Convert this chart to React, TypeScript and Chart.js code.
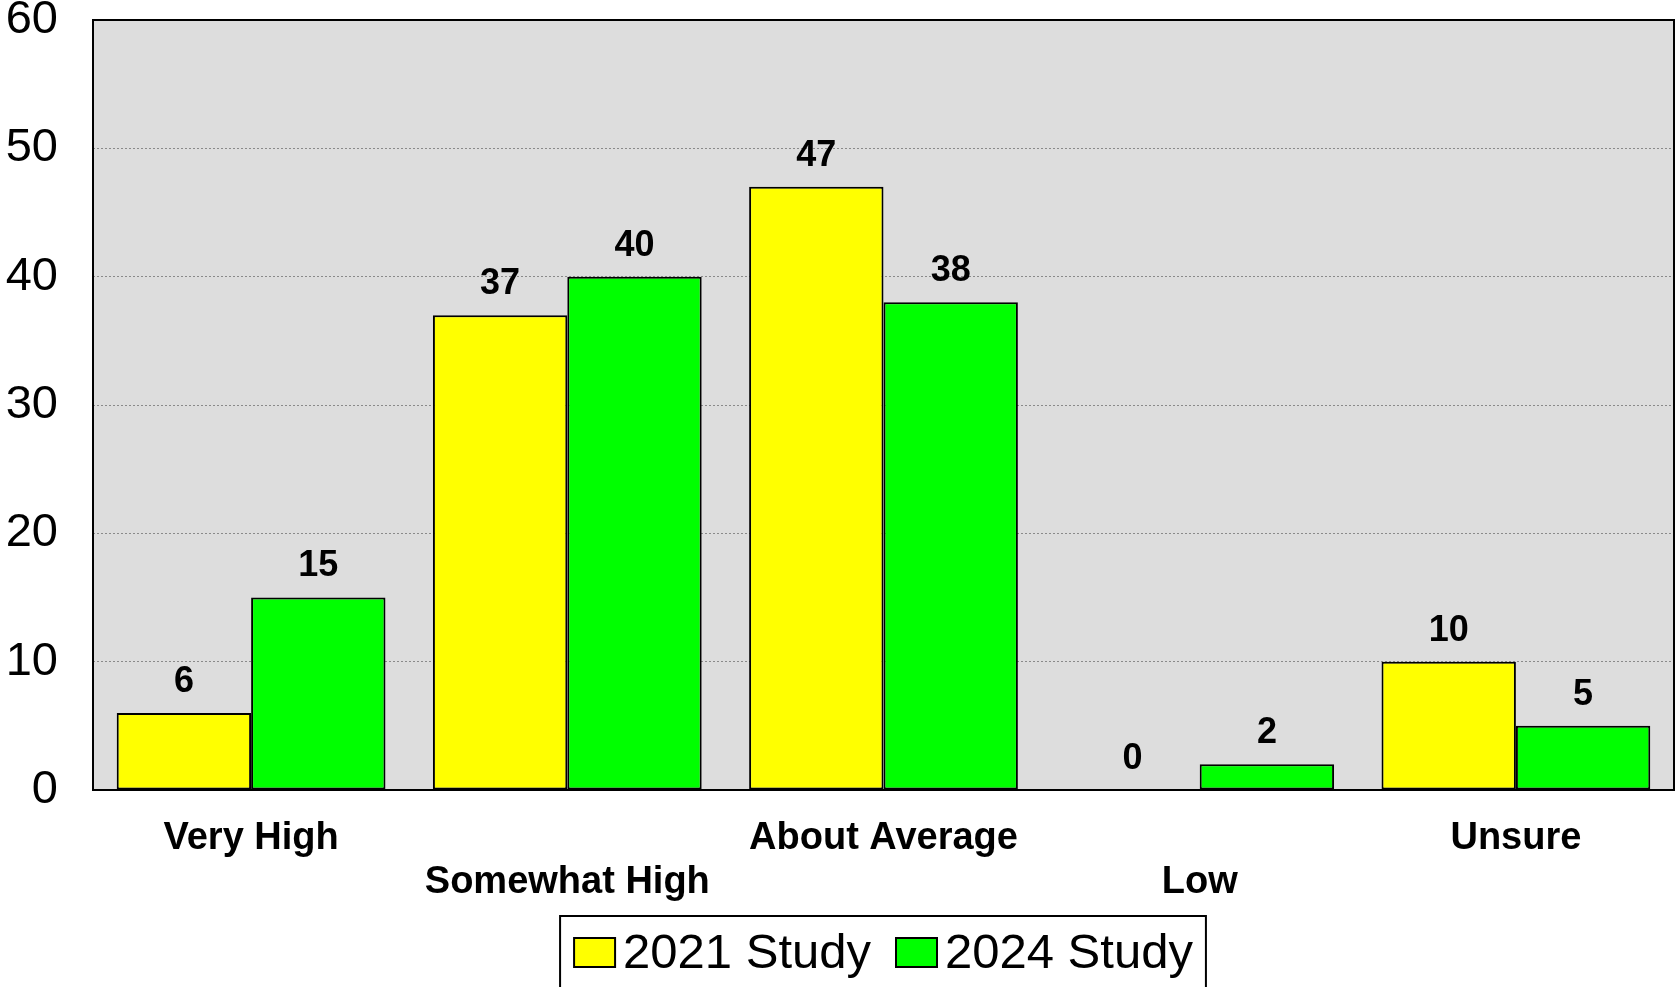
import React, { useEffect, useRef } from "react";
import { Chart, registerables } from "chart.js";

Chart.register(...registerables);

const categories = ["Very High", "Somewhat High", "About Average", "Low", "Unsure"];
const series2021 = [6, 37, 47, 0, 10];
const series2024 = [15, 40, 38, 2, 5];
const seriesNames = ["2021 Study", "2024 Study"];
const seriesColors = ["#ffff00", "#00ff00"];
const yTicks = [0, 10, 20, 30, 40, 50, 60];

const FONT = "'Liberation Sans', Arial, Helvetica, sans-serif";

const bgPlugin = {
  id: "plotBg",
  beforeDraw(chart: any) {
    const { ctx, chartArea } = chart;
    ctx.save();
    ctx.fillStyle = "#dddddd";
    ctx.fillRect(chartArea.left, chartArea.top, chartArea.right - chartArea.left, chartArea.bottom - chartArea.top);
    ctx.restore();
  },
};

const framePlugin = {
  id: "plotFrame",
  afterDatasetsDraw(chart: any) {
    const { ctx, chartArea } = chart;
    ctx.save();
    ctx.strokeStyle = "#000";
    ctx.lineWidth = 2;
    ctx.strokeRect(chartArea.left, chartArea.top, chartArea.right - chartArea.left, chartArea.bottom - chartArea.top);
    ctx.restore();
  },
};

const valueLabelPlugin = {
  id: "valueLabels",
  afterDatasetsDraw(chart: any) {
    const { ctx } = chart;
    ctx.save();
    ctx.font = `bold 36px ${FONT}`;
    ctx.fillStyle = "#000";
    ctx.textAlign = "center";
    ctx.textBaseline = "middle";
    chart.data.datasets.forEach((ds: any, di: number) => {
      const meta = chart.getDatasetMeta(di);
      meta.data.forEach((el: any, i: number) => {
        ctx.fillText(String(ds.data[i]), el.x, el.y - 31);
      });
    });
    ctx.restore();
  },
};

const legendPlugin = {
  id: "framedLegend",
  afterDraw(chart: any) {
    const { ctx, chartArea } = chart;
    const H = chart.height;
    ctx.save();
    ctx.font = `49px ${FONT}`;
    const boxW = 41;
    const boxH = 29;
    const gap = 8;
    const itemGap = 25;
    const widths = seriesNames.map((n) => ctx.measureText(n).width);
    const total = widths.reduce((a, w) => a + boxW + gap + w, 0) + itemGap * (seriesNames.length - 1);
    const cx = (chartArea.left + chartArea.right) / 2;
    let x = cx - total / 2;
    const frameTop = H - 71;
    ctx.strokeStyle = "#000";
    ctx.lineWidth = 2;
    ctx.strokeRect(x - 14, frameTop, total + 27, 100);
    const boxTop = frameTop + 22;
    const textY = boxTop + boxH / 2 + 2;
    seriesNames.forEach((n, i) => {
      ctx.fillStyle = seriesColors[i];
      ctx.fillRect(x, boxTop, boxW, boxH);
      ctx.strokeStyle = "#000";
      ctx.lineWidth = 2;
      ctx.strokeRect(x, boxTop, boxW, boxH);
      ctx.fillStyle = "#000";
      ctx.textAlign = "left";
      ctx.textBaseline = "middle";
      ctx.fillText(n, x + boxW + gap, textY);
      x += boxW + gap + widths[i] + itemGap;
    });
    ctx.restore();
  },
};

export default function App() {
  const ref = useRef<HTMLCanvasElement | null>(null);

  useEffect(() => {
    document.body.style.margin = "0";
    if (!ref.current) return;
    const chart = new Chart(ref.current, {
      type: "bar",
      data: {
        labels: categories,
        datasets: [
          {
            label: seriesNames[0],
            data: series2021,
            backgroundColor: seriesColors[0],
            borderColor: "#000",
            borderWidth: 2,
            borderSkipped: false,
            barPercentage: 1.0,
            categoryPercentage: 0.85,
          },
          {
            label: seriesNames[1],
            data: series2024,
            backgroundColor: seriesColors[1],
            borderColor: "#000",
            borderWidth: 2,
            borderSkipped: false,
            barPercentage: 1.0,
            categoryPercentage: 0.85,
          },
        ],
      },
      options: {
        responsive: false,
        animation: false,
        devicePixelRatio: 1,
        layout: { padding: { top: 20, left: 6, right: 2, bottom: 85 } },
        plugins: {
          legend: { display: false },
          tooltip: { enabled: false },
        },
        scales: {
          x: {
            grid: { display: false, drawTicks: false },
            border: { display: false },
            afterFit: (s: any) => {
              s.paddingLeft = 0;
              s.paddingRight = 0;
              s.height = 112;
            },
            ticks: {
              autoSkip: false,
              maxRotation: 0,
              minRotation: 0,
              padding: 27,
              color: "#000",
              font: { family: FONT, size: 38, weight: "bold", lineHeight: 44 / 38 },
              callback: (_v: any, i: number) => (i % 2 === 0 ? [categories[i], ""] : ["", categories[i]]),
            },
          },
          y: {
            min: yTicks[0],
            max: yTicks[yTicks.length - 1],
            afterBuildTicks: (axis: any) => {
              axis.ticks = yTicks.map((v) => ({ value: v }));
            },
            afterFit: (s: any) => {
              s.paddingTop = 0;
              s.paddingBottom = 0;
              s.width = 87;
            },
            grid: { color: "#8a8a8a", lineWidth: 1, drawTicks: false },
            border: { display: false, dash: [2, 2] },
            ticks: {
              padding: 35,
              color: "#000",
              font: { family: FONT, size: 47, lineHeight: 0.8 },
            },
          },
        },
      },
      plugins: [bgPlugin, framePlugin, valueLabelPlugin, legendPlugin],
    } as any);
    return () => chart.destroy();
  }, []);

  return (
    <div style={{ width: 1676, height: 987 }}>
      <canvas ref={ref} width={1676} height={987} style={{ display: "block" }} />
    </div>
  );
}
